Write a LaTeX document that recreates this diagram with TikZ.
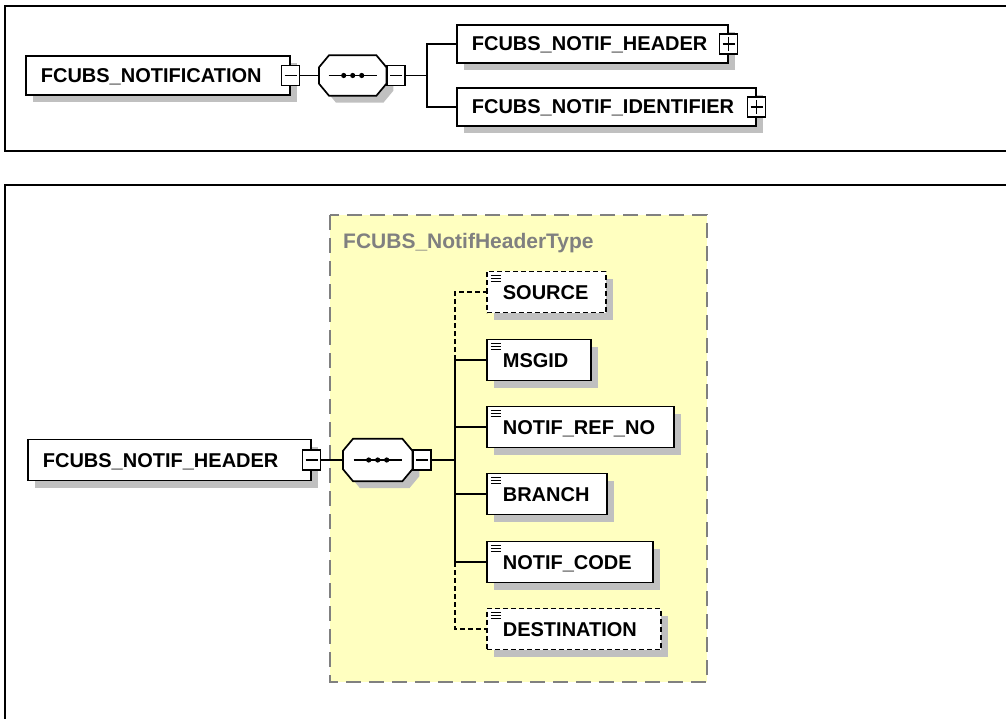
\documentclass[tikz,border=0pt]{standalone}
\usepackage{fontspec}
\setmainfont{Liberation Sans}
\usetikzlibrary{shadows}
\definecolor{fondjaune}{RGB}{255,255,192}
\definecolor{ombre}{RGB}{192,192,192}
\definecolor{grisbord}{RGB}{128,128,128}
\begin{document}
\begin{tikzpicture}[x=1pt,y=-1pt]
		\tikzstyle{cadre}=[line width=2.5pt]
		\tikzstyle{trait}=[line width=1.7pt]
		\tikzstyle{ombrage}=[drop shadow={shadow xshift=7pt,shadow yshift=-7pt,fill=ombre,opacity=1}]
		\tikzstyle{element}=[draw,fill=white,line width=1.7pt,anchor=west,align=left,inner xsep=15pt,inner ysep=0pt,minimum height=39pt,text height=14pt,text depth=0pt,font=\bfseries\fontsize{20}{24}\selectfont,ombrage]
		\tikzstyle{feuille}=[element,inner xsep=16pt,minimum height=41pt,path picture={
			\foreach \dy in {4,7,10}
				\draw[line width=1.3pt,solid] ([xshift=4pt,yshift=-\dy pt]path picture bounding box.north west) -- ++(10pt,0pt);}]
		\tikzstyle{optionnel}=[dash pattern=on 5pt off 3pt]
		\tikzstyle{sequence}=[anchor=west,inner sep=0pt]
		\tikzstyle{moins}=[draw,fill=white,line width=1.3pt,minimum width=18pt,minimum height=20pt,inner sep=0pt,path picture={
			\draw[line width=1.3pt] ([xshift=3pt]path picture bounding box.west) -- ([xshift=-3pt]path picture bounding box.east);}]
		\tikzstyle{plus}=[moins,path picture={
			\draw[line width=1.3pt] ([xshift=3pt]path picture bounding box.west) -- ([xshift=-3pt]path picture bounding box.east);
			\draw[line width=1.3pt] ([yshift=-3pt]path picture bounding box.north) -- ([yshift=3pt]path picture bounding box.south);}]
		\def\LigneHaut{75.5}
		\def\LigneBas{460}
		\def\ColFeuilles{486}
		% octogone de la sequence, decale de (#2,#3)
		\def\Contour#1#2#3{([xshift=#2+10pt,yshift=#3]#1.north west) -- ([xshift=#2-10pt,yshift=#3]#1.north east) -- ([xshift=#2,yshift=#3-12pt]#1.north east) -- ([xshift=#2,yshift=#3+12pt]#1.south east) -- ([xshift=#2-10pt,yshift=#3]#1.south east) -- ([xshift=#2+10pt,yshift=#3]#1.south west) -- ([xshift=#2,yshift=#3+12pt]#1.south west) -- ([xshift=#2,yshift=#3-12pt]#1.north west) -- cycle}
		\def\Octogone#1{
			\fill[ombre] \Contour{#1}{7pt}{-7pt};
			\draw[trait,fill=white] \Contour{#1}{0pt}{0pt};
			\draw[trait] ([xshift=-24pt]#1.center) -- ([xshift=24pt]#1.center);
			\foreach \dx in {-9,0,9}
				\fill ([xshift=\dx pt]#1.center) circle (2.6pt);}
		\useasboundingbox (0,0) rectangle (1006,719);
		% cadres
		\draw[cadre] (1006,6) -- (5,6) -- (5,151) -- (1006,151);
		\draw[cadre] (1006,185) -- (5,185) -- (5,719);
		% vue d'ensemble
		\node[element,text width=234pt] (notif) at (25,\LigneHaut) {FCUBS\_NOTIFICATION};
		\node[moins] (notifm) at (notif.east) {};
		\node[sequence,minimum width=67pt,minimum height=40pt] (seqA) at (319,\LigneHaut) {};
		\Octogone{seqA}
		\node[moins,anchor=west] (seqAm) at (seqA.east) {};
		\coordinate (fourcheA) at (427,\LigneHaut);
		\node[element,text width=241pt,minimum height=38pt] (hdr) at (456,44) {FCUBS\_NOTIF\_HEADER};
		\node[plus] (hdrp) at (hdr.east) {};
		\node[element,text width=269pt,minimum height=38pt] (ident) at (456,107) {FCUBS\_NOTIF\_IDENTIFIER};
		\node[plus] (identp) at (ident.east) {};
		\draw[trait] (notifm.east) -- (seqA.west);
		\draw[trait] (seqAm.east) -- (fourcheA);
		\draw[trait] (fourcheA) |- (hdr.west);
		\draw[trait] (fourcheA) |- (ident.west);
		% detail de l'entete
		\draw[grisbord,fill=fondjaune,line width=1.5pt,dash pattern=on 15pt off 8pt] (330,215) rectangle (707,682);
		\node[anchor=west,inner sep=0pt,text=grisbord,font=\bfseries\fontsize{21}{24}\selectfont] (typeA) at (343,243) {FCUBS\_NotifHeaderType};
		\node[element,text width=253pt,inner xsep=15pt,minimum height=41pt] (entete) at (27,\LigneBas) {FCUBS\_NOTIF\_HEADER};
		\node[moins] (entetem) at (entete.east) {};
		\node[sequence,minimum width=69pt,minimum height=42pt] (seqB) at (343,\LigneBas) {};
		\Octogone{seqB}
		\node[moins,anchor=west] (seqBm) at (seqB.east) {};
		\coordinate (fourcheB) at (455,\LigneBas);
		\node[feuille,optionnel,text width=87pt] (source) at (\ColFeuilles,292) {SOURCE};
		\node[feuille,text width=72pt] (msgid) at (\ColFeuilles,360) {MSGID};
		\node[feuille,text width=155pt] (refno) at (\ColFeuilles,427) {NOTIF\_REF\_NO};
		\node[feuille,text width=88pt] (branch) at (\ColFeuilles,494) {BRANCH};
		\node[feuille,text width=134pt] (code) at (\ColFeuilles,562) {NOTIF\_CODE};
		\node[feuille,optionnel,text width=142pt] (dest) at (\ColFeuilles,629) {DESTINATION};
		\draw[trait] (entetem.east) -- (seqB.west);
		\draw[trait] (seqBm.east) -- (fourcheB);
		\draw[trait] (fourcheB) |- (msgid.west);
		\draw[trait] (fourcheB) |- (refno.west);
		\draw[trait] (fourcheB) |- (branch.west);
		\draw[trait] (fourcheB) |- (code.west);
		\draw[trait,optionnel] (fourcheB |- msgid.west) |- (source.west);
		\draw[trait,optionnel] (fourcheB |- code.west) |- (dest.west);
	\end{tikzpicture}
\end{document}
